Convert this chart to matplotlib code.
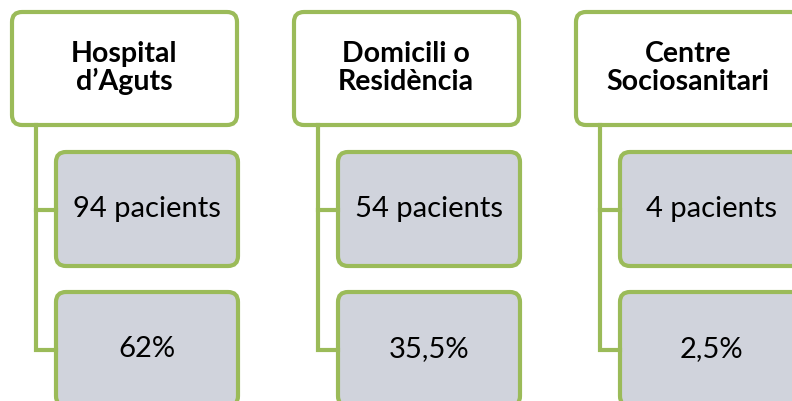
import matplotlib.pyplot as plt
from matplotlib.patches import FancyBboxPatch

# Dades del diagrama
categories = ["Hospital\nd\u2019Aguts", "Domicili o\nResid\u00e8ncia", "Centre\nSociosanitari"]
pacients = [94, 54, 4]
percentatges = ["62%", "35,5%", "2,5%"]

VERD = "#9BBB59"
GRIS = "#D0D3DC"
FONT = "Lato"

fig = plt.figure(figsize=(7.92, 4.01), dpi=100)
ax = fig.add_axes([0, 0, 1, 1])
ax.set_xlim(0, 792)
ax.set_ylim(401, 0)
ax.axis("off")

pas = 282
for i, cat in enumerate(categories):
    x0 = 12 + i * pas
    # caixa de capçalera
    cap = FancyBboxPatch((x0, 12), 225, 113, boxstyle="round,pad=0,rounding_size=10",
                         fc="white", ec=VERD, lw=3)
    ax.add_patch(cap)
    ax.text(x0 + 112, 68, cat, ha="center", va="center", fontsize=20.5,
            fontweight="bold", family=FONT, linespacing=1.05)

    # connector
    xl = x0 + 24
    ax.plot([xl, xl, x0 + 44], [125, 350, 350], color=VERD, lw=3, solid_joinstyle="miter")
    ax.plot([xl, x0 + 44], [210, 210], color=VERD, lw=3)

    # caixes filles
    fills = [f"{pacients[i]} pacients", percentatges[i]]
    for j, txt in enumerate(fills):
        y0 = 152 + j * 140
        b = FancyBboxPatch((x0 + 44, y0), 182, 114, boxstyle="round,pad=0,rounding_size=10",
                           fc=GRIS, ec=VERD, lw=3)
        ax.add_patch(b)
        ax.text(x0 + 44 + 91, y0 + 57, txt, ha="center", va="center",
                fontsize=21, family=FONT)

fig.savefig("out.png", dpi=100)
